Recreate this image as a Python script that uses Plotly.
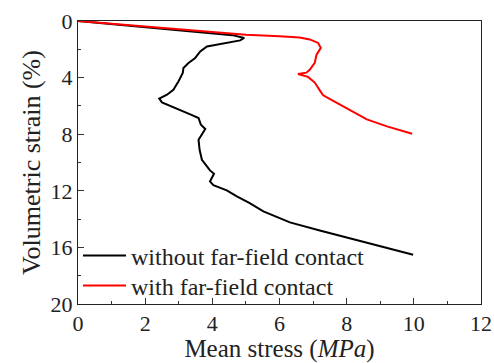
import plotly.graph_objects as go

# Black curve: without far-field contact
without_x = [0, 1, 2, 3, 4, 4.6, 4.95, 4.83, 3.84, 3.64, 3.49, 3.29, 3.14, 3.12, 2.99, 2.84, 2.65,
             2.42, 2.50, 2.84, 3.24, 3.43, 3.59, 3.66, 3.79, 3.69, 3.59, 3.62, 3.69, 3.84, 3.93,
             4.05, 3.93, 4.03, 4.43, 4.73, 5.10, 5.52, 6.31, 7.20, 8.30, 9.98]
without_y = [0, 0.22, 0.42, 0.62, 0.85, 1.0, 1.2, 1.37, 1.8, 2.15, 2.61, 2.97, 3.32, 3.67, 4.27,
             4.86, 5.21, 5.49, 5.75, 6.08, 6.46, 6.69, 6.86, 7.33, 7.63, 8.04, 8.39, 9.10, 9.81,
             10.28, 10.56, 10.79, 11.34, 11.6, 11.97, 12.40, 12.85, 13.46, 14.23, 14.8, 15.46, 16.52]

# Red curve: with far-field contact
with_x = [0, 1, 2, 3, 4, 5, 6, 6.6, 6.9, 7.15, 7.23, 7.1, 7.05, 6.9, 6.8, 6.55, 6.85, 7.05,
          7.2, 7.3, 7.6, 8.0, 8.6, 9.2, 9.95]
with_y = [0, 0.2, 0.4, 0.58, 0.78, 0.97, 1.07, 1.17, 1.3, 1.55, 1.9, 2.4, 2.95, 3.45, 3.65,
          3.75, 3.95, 4.35, 4.9, 5.25, 5.65, 6.15, 6.95, 7.45, 7.97]

x_ticks = [0, 2, 4, 6, 8, 10, 12]
y_ticks = [0, 4, 8, 12, 16, 20]

FONT = "Liberation Serif"

fig = go.Figure()
fig.add_trace(go.Scatter(x=without_x, y=without_y, mode="lines",
                         line=dict(color="black", width=2),
                         name="without far-field contact", legend="legend"))
fig.add_trace(go.Scatter(x=with_x, y=with_y, mode="lines",
                         line=dict(color="#ff0000", width=2),
                         name="with far-field contact", legend="legend2"))

axis_common = dict(showline=True, linecolor="#222", linewidth=1, mirror=True,
                   ticks="inside", ticklen=6, tickcolor="#333", tickwidth=1,
                   showgrid=False, zeroline=False, automargin=False,
                   tickfont=dict(family=FONT, size=22, color="#222"))

fig.update_xaxes(range=[0, 12], tickvals=x_ticks, ticktext=[str(v) for v in x_ticks],
                 minor=dict(ticks="inside", ticklen=3, dtick=1, tick0=0, tickcolor="#333"),
                 title=dict(text="Mean stress (<i>MPa</i>)", font=dict(family=FONT, size=25, color="#222"),
                            standoff=0),
                 **axis_common)
fig.update_yaxes(range=[20, 0], tickvals=y_ticks, ticktext=[str(v) for v in y_ticks],
                 minor=dict(ticks="inside", ticklen=3, dtick=2, tick0=0, tickcolor="#333"),
                 title=dict(text="\u00a0\u00a0\u00a0Volumetric strain (%)",
                            font=dict(family=FONT, size=26, color="#222"),
                            standoff=2),
                 **axis_common)

leg_common = dict(x=0.0, xanchor="left", yanchor="middle",
                  bgcolor="rgba(0,0,0,0)", font=dict(family=FONT, size=24, color="#222"),
                  itemwidth=43)
fig.update_layout(
    width=494, height=363,
    margin=dict(l=78, r=13, t=21, b=59),
    paper_bgcolor="white", plot_bgcolor="white",
    showlegend=True,
    legend=dict(y=0.170, **leg_common),
    legend2=dict(y=0.064, **leg_common),
)

fig.write_html("out.html")
